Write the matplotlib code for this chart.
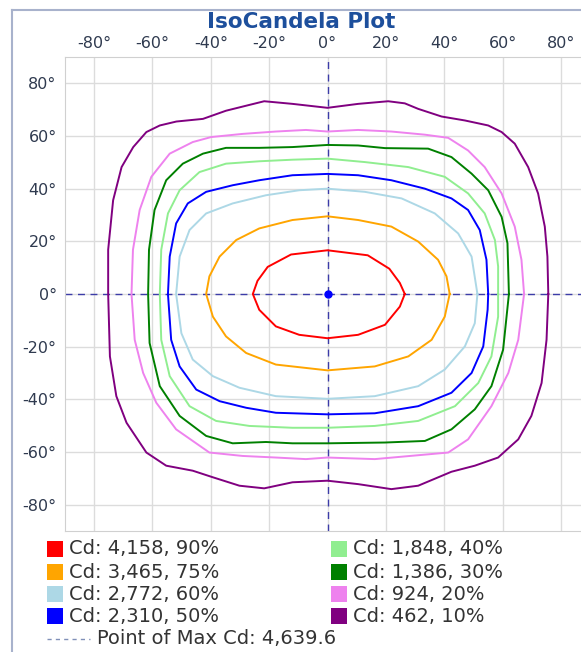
import matplotlib

matplotlib.use("Agg")
import matplotlib.pyplot as plt
from matplotlib.lines import Line2D
from matplotlib.patches import Rectangle

# iso-candela levels (legend order: left column then right column)
CD_VALUES = [4158, 3465, 2772, 2310, 1848, 1386, 924, 462]
PERCENTS = [90, 75, 60, 50, 40, 30, 20, 10]
COLORS = ["#ff0000", "#ffa500", "#add8e6", "#0000ff",
          "#90ee90", "#008000", "#ee82ee", "#800080"]
MAX_CD = 4639.6

# contour outlines, (horizontal deg, vertical deg)
C90 = [(26.5, 0), (24.8, 4.2), (21.2, 9.6), (13.8, 14.7), (0, 16.6), (-12.5, 15.0),
       (-20.5, 10.3), (-24.0, 5.0), (-25.6, 0), (-23.4, -6.0), (-17.7, -12.3),
       (-9.7, -15.5), (0, -16.8), (10.5, -15.5), (19.7, -11.7), (24.8, -4.8), (26.5, 0)]
C75 = [(41.9, 0), (40.8, 6.7), (37.9, 13), (31.1, 19.9), (21.9, 25.6), (10.5, 28.1),
       (0, 29.5), (-12, 28.1), (-23.4, 24.9), (-31.3, 20.5), (-37, 14.2), (-40.5, 6.7),
       (-41.6, 0), (-39.3, -8.6), (-34.8, -16.1), (-27.9, -22.4), (-17.7, -26.8),
       (0, -29), (16.2, -27.5), (27.7, -23.7), (35.7, -17.4), (40.2, -8.6), (41.9, 0)]
C60 = [(51.4, 0), (49.4, 14.2), (44.8, 23), (36.8, 30.6), (25.4, 36.3), (12.8, 38.8),
       (0, 40), (-9.7, 39.4), (-21.1, 37.5), (-32.5, 34.4), (-41.6, 30.6), (-47.3, 24.3),
       (-50.7, 14.2), (-51.9, 0), (-50.1, -14.9), (-46.2, -24.9), (-39.3, -31.2),
       (-30.2, -35.6), (-17.7, -38.8), (0, -39.8), (16.2, -38.8), (31.1, -35),
       (40.2, -28.7), (47.1, -19.9), (50.5, -11.1), (51.4, 0)]
C50 = [(55.1, 0), (54.5, 13), (52.2, 24.3), (48.2, 31.9), (42.5, 36.3), (33.4, 40),
       (21.9, 43.2), (10.5, 45.1), (0, 45.6), (-12, 45.1), (-23.4, 43.2), (-32.5, 41.3),
       (-41.6, 38.8), (-47.9, 34.4), (-51.9, 26.8), (-54.1, 14.2), (-54.7, 0),
       (-53.6, -17.4), (-50.7, -27.5), (-45, -36.3), (-37, -40.7), (-27.9, -43.2),
       (-17.7, -45.1), (0, -45.7), (16.2, -45.3), (31.1, -42.6), (42.5, -37.5),
       (49.4, -30), (53.4, -19.9), (54.9, -6), (55.1, 0)]
C40 = [(58.5, 0), (58.5, 10.5), (57.4, 20.5), (53.9, 30.6), (48.2, 38.2), (40.2, 44.5),
       (27.7, 48.2), (12.8, 50.1), (0, 51.4), (-12, 51), (-23.4, 50.4), (-34.8, 49.5),
       (-43.9, 46.3), (-50.7, 39.4), (-54.7, 30.6), (-57, 16.8), (-57.5, 0),
       (-57, -17.4), (-54.1, -31.2), (-47.3, -42.6), (-38.2, -48.2), (-26.8, -50.1),
       (-12, -50.8), (0, -50.8), (16.2, -50.1), (31.1, -48.2), (43.7, -42.6),
       (51.7, -33.8), (56.2, -23.7), (58.5, -8.6), (58.5, 0)]
C30 = [(62.2, 0), (61.7, 19.3), (59.7, 29.3), (55.1, 39.4), (49.4, 45.7), (42.5, 52),
       (34.5, 55.2), (19.7, 55.4), (10.5, 56.4), (0, 56.6), (-12, 55.8), (-23.4, 55.5),
       (-34.8, 55.5), (-42.7, 53.3), (-49.6, 49.5), (-55.3, 43.2), (-59.3, 31.9),
       (-61.2, 16.8), (-61.5, 0), (-61, -18.6), (-57.5, -35), (-50.7, -46.3),
       (-41.6, -53.9), (-32.5, -56.7), (-21.1, -56.2), (-12, -56.7), (0, -56.7),
       (19.7, -56.4), (33.4, -55.8), (42.5, -51.4), (50.5, -43.8), (56.2, -35),
       (60.2, -21.2), (62.2, 0)]
C20 = [(67.4, 0), (66.5, 13), (64.2, 25.6), (59.7, 38.2), (53.9, 48.2), (48.2, 54.5),
       (41.4, 59.3), (33.4, 60.5), (21.9, 61.7), (10.5, 62.3), (0, 61.7), (-7.4, 62.3),
       (-17.7, 61.7), (-29.1, 60.8), (-39.9, 59.6), (-46.2, 57.7), (-54.1, 53.3),
       (-60.4, 44.5), (-64.4, 31.9), (-66.7, 16.8), (-67.2, 0), (-66.1, -17.4),
       (-63.2, -30), (-58.7, -41.3), (-51.9, -51.4), (-40.5, -60.2), (-29.1, -61.5),
       (-17.7, -62.1), (-7.4, -62.7), (0, -62.1), (16.2, -62.7), (41.4, -60.2),
       (48.2, -55.2), (56.2, -42.6), (62, -30), (65.4, -17.4), (67.4, 0)]
C10 = [(75.7, 0), (75.4, 14.2), (74.5, 25.6), (72.2, 38.2), (68.8, 48.2), (64.2, 57.1),
       (59.7, 61.5), (55.1, 64), (47.1, 65.9), (39.1, 67.4), (31.1, 70.3), (26.5, 72.4),
       (20.8, 73.2), (10.5, 72.2), (0, 70.7), (-12, 72.2), (-21.7, 73.2), (-27.9, 71.5),
       (-34.8, 69.6), (-42.7, 66.5), (-51.8, 65.5), (-57.5, 64), (-62.1, 61.5),
       (-66.6, 55.8), (-70.6, 48.2), (-73.5, 35.6), (-75.2, 16.8), (-75.2, 0),
       (-74.6, -23.7), (-72.4, -38.8), (-68.9, -48.9), (-62.1, -60.2), (-55.3, -65.2),
       (-46.2, -67.1), (-39.3, -69.6), (-30.2, -72.8), (-21.7, -73.8), (-12, -71.5),
       (0, -70.9), (10.5, -72.2), (21.9, -74.1), (31.1, -72.8), (42.5, -67.5),
       (50.5, -65.2), (58.5, -62.1), (65.4, -55.2), (69.9, -46.3), (73.4, -33.8),
       (75.1, -17.4), (75.7, 0)]
CONTOURS = [C90, C75, C60, C50, C40, C30, C20, C10]

TICKS = [-80, -60, -40, -20, 0, 20, 40, 60, 80]

W, H = 581, 652
LABEL_C = "#2f3a4f"

fig = plt.figure(figsize=(W / 100, H / 100), dpi=100)

# outer frame (right/bottom edges fall outside the image)
fig.add_artist(Line2D([12 / W, 1.0], [1 - 10 / H, 1 - 10 / H], color="#a8b2cc", lw=1.5))
fig.add_artist(Line2D([12 / W, 12 / W], [0, 1 - 10 / H], color="#a8b2cc", lw=1.5))

fig.text(301 / W, 1 - 22 / H, "IsoCandela Plot", ha="center", va="center",
         fontsize=15.5, fontweight="bold", color="#1d4f9c")

ax = fig.add_axes([65 / W, 1 - 531 / H, 525 / W, 474 / H])
ax.set_xlim(-90, 90)
ax.set_ylim(-90, 90)
ax.set_xticks(TICKS)
ax.set_yticks(TICKS)
ax.set_xticklabels([f"{t}\u00b0" for t in TICKS])
ax.set_yticklabels([f"{t}\u00b0" for t in TICKS])
ax.xaxis.tick_top()
ax.tick_params(length=0, labelsize=11.5, labelcolor=LABEL_C)
ax.tick_params(axis="x", pad=4)
ax.tick_params(axis="y", pad=6)
ax.grid(True, color="#dcdcdc", lw=1)
ax.set_axisbelow(True)
for sp in ax.spines.values():
    sp.set_color("#d0d0d0")

ax.axvline(0, color="#3c3ca8", lw=1, ls=(0, (5, 4)))
ax.axhline(0, color="#3c3ca8", lw=1, ls=(0, (5, 4)))

for pts, col in zip(CONTOURS, COLORS):
    xs = [p[0] for p in pts]
    ys = [p[1] for p in pts]
    ax.plot(xs, ys, color=col, lw=1.4)

ax.plot([0], [0], "o", color="#0000ff", ms=5)

# legend, laid out by hand in two columns
rows_y = [549, 572, 594, 616]
for i, (cd, pct, col) in enumerate(zip(CD_VALUES, PERCENTS, COLORS)):
    col_x = 47 if i < 4 else 331
    y = rows_y[i % 4]
    fig.add_artist(Rectangle((col_x / W, 1 - (y + 8) / H), 16 / W, 16 / H,
                             facecolor=col, edgecolor="none"))
    fig.text((col_x + 22) / W, 1 - y / H, f"Cd: {cd:,}, {pct}%", ha="left",
             va="center", fontsize=14, color="#333333")

fig.add_artist(Line2D([47 / W, 90 / W], [1 - 639 / H, 1 - 639 / H], color="#8090b8",
                      lw=1, ls=(0, (3, 3))))
fig.text(97 / W, 1 - 639 / H, f"Point of Max Cd: {MAX_CD:,.1f}", ha="left",
         va="center", fontsize=14, color="#333333")

fig.savefig("out.png", dpi=100)
